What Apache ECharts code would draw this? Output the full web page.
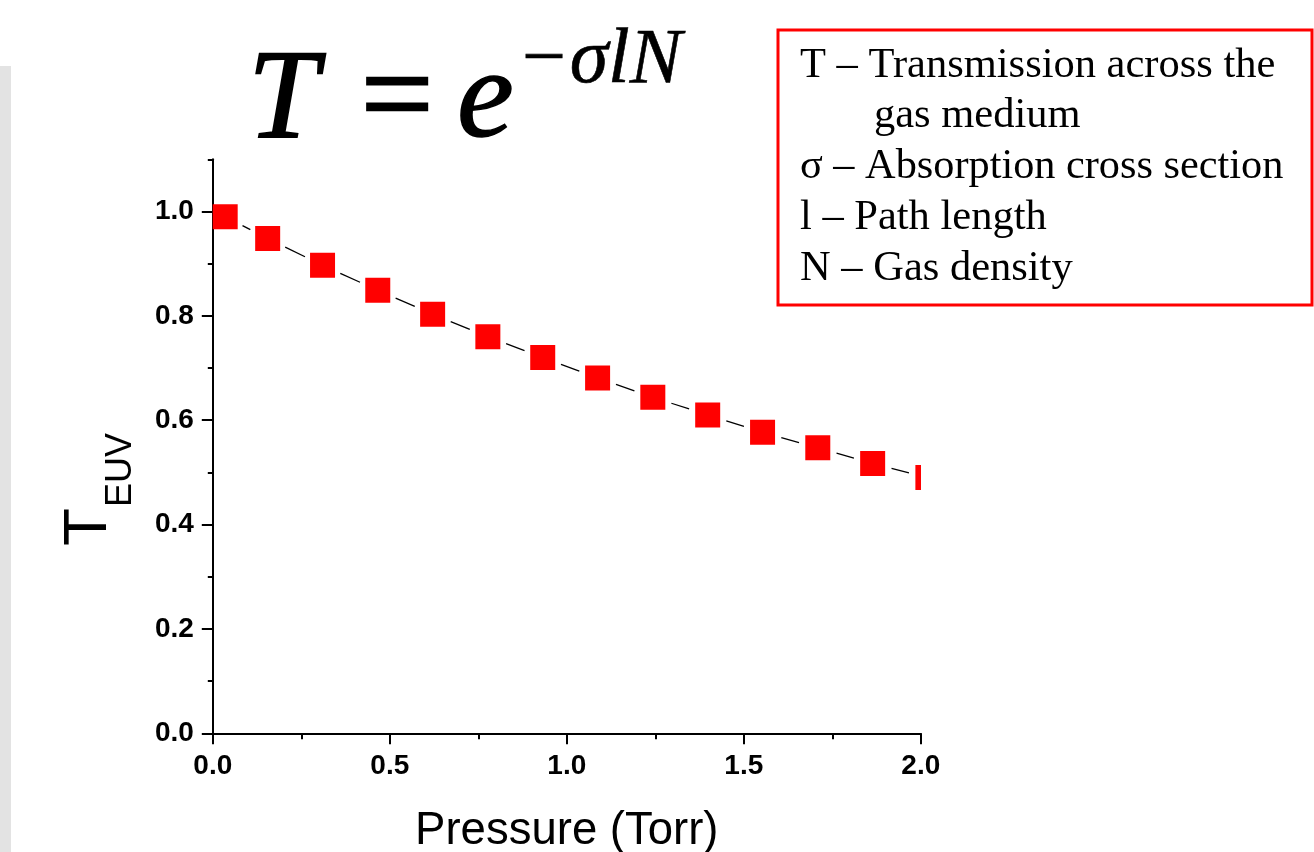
<!DOCTYPE html>
<html>
<head>
<meta charset="utf-8">
<style>
  html, body { margin: 0; padding: 0; background: #ffffff; }
  #chart { width: 1314px; height: 852px; }
</style>
<script src="https://cdn.jsdelivr.net/npm/echarts@6/dist/echarts.min.js"></script>
</head>
<body>
<div id="chart"></div>
<script>
// ---- data ----
const pressure = [0.035, 0.155, 0.310, 0.466, 0.621, 0.777, 0.932, 1.087, 1.243, 1.398, 1.553, 1.709, 1.864, 2.020];
const transmission = [0.990, 0.948, 0.897, 0.849, 0.803, 0.760, 0.720, 0.681, 0.644, 0.610, 0.577, 0.547, 0.517, 0.490];
const yMajorTicks = [0, 0.2, 0.4, 0.6, 0.8, 1.0];
const xTitle = 'Pressure (Torr)';
const legendLines = [
  'T \u2013 Transmission across the',
  'gas medium',
  '\u03c3 \u2013 Absorption cross section',
  'l \u2013 Path length',
  'N \u2013 Gas density'
];

const points = pressure.map((p, i) => [p, transmission[i]]);
const segments = [];
for (let i = 1; i < points.length; i++) {
  segments.push([points[i - 1][0], points[i - 1][1], points[i][0], points[i][1]]);
}

const chart = echarts.init(document.getElementById('chart'), null, { renderer: 'canvas' });

const sans = "'Liberation Sans', Arial, sans-serif";
const serif = "'Liberation Serif', 'Times New Roman', serif";
const axisColor = '#000000';

const serifMid = 0.3375; // canvas middle above baseline (em) for Liberation Serif

function serifText(x, baseline, text, size, italic, strokeW) {
  const st = {
    text: text, fill: '#000', font: (italic ? 'italic ' : '') + size + 'px ' + serif,
    align: 'left', verticalAlign: 'middle'
  };
  if (strokeW) { st.stroke = '#000'; st.lineWidth = strokeW; }
  return { type: 'text', x: x, y: baseline - serifMid * size, silent: true, style: st };
}

const option = {
  animation: false,
  backgroundColor: '#ffffff',
  grid: { left: 212.8, right: 393.2, top: 159.3, bottom: 118.7, containLabel: false, outerBoundsMode: 'none' },
  xAxis: {
    type: 'value', min: 0, max: 2, interval: 0.5,
    name: xTitle, nameLocation: 'middle', nameGap: 75,
    nameTextStyle: { fontFamily: sans, fontSize: 45.5, color: '#000', verticalAlign: 'top' },
    axisLine: { show: true, onZero: false, lineStyle: { color: axisColor, width: 2 } },
    axisTick: { show: true, inside: false, length: 11, lineStyle: { color: axisColor, width: 2 } },
    minorTick: { show: true, splitNumber: 2, length: 6, lineStyle: { color: axisColor, width: 2 } },
    axisLabel: {
      show: true, margin: 19, fontFamily: sans, fontSize: 28, fontWeight: 'bold', color: '#000',
      formatter: v => v.toFixed(1)
    },
    splitLine: { show: false }, minorSplitLine: { show: false }
  },
  yAxis: [
    {
      type: 'value', min: 0, max: 1.1, interval: 0.1, position: 'left',
      axisLine: { show: true, onZero: false, lineStyle: { color: axisColor, width: 2 } },
      axisTick: { show: true, inside: false, length: 5, lineStyle: { color: axisColor, width: 2 } },
      axisLabel: { show: false },
      splitLine: { show: false }
    },
    {
      type: 'value', min: 0, max: 1.1, interval: 0.1, position: 'left',
      axisLine: { show: false },
      axisTick: { show: true, inside: false, length: 11, customValues: yMajorTicks, lineStyle: { color: axisColor, width: 2 } },
      axisLabel: {
        show: true, margin: 19, customValues: yMajorTicks,
        fontFamily: sans, fontSize: 28, fontWeight: 'bold', color: '#000',
        formatter: v => v.toFixed(1)
      },
      splitLine: { show: false }
    }
  ],
  series: [
    {
      name: 'fit', type: 'custom', clip: true, silent: true,
      xAxisIndex: 0, yAxisIndex: 0,
      encode: { x: [0, 2], y: [1, 3] },
      data: segments,
      renderItem: function (params, api) {
        const a = api.coord([api.value(0), api.value(1)]);
        const b = api.coord([api.value(2), api.value(3)]);
        const dx = b[0] - a[0], dy = b[1] - a[1];
        const len = Math.sqrt(dx * dx + dy * dy);
        const cut = 19.5;
        if (len <= 2 * cut) return null;
        const ux = dx / len, uy = dy / len;
        return {
          type: 'line',
          shape: { x1: a[0] + ux * cut, y1: a[1] + uy * cut, x2: b[0] - ux * cut, y2: b[1] - uy * cut },
          style: { stroke: '#000', lineWidth: 1.3 }
        };
      }
    },
    {
      name: 'T_EUV', type: 'custom', clip: true, silent: true,
      xAxisIndex: 0, yAxisIndex: 0,
      encode: { x: 0, y: 1 },
      data: points,
      renderItem: function (params, api) {
        const c = api.coord([api.value(0), api.value(1)]);
        const s = 25;
        return {
          type: 'rect',
          shape: { x: c[0] - s / 2, y: c[1] - s / 2, width: s, height: s },
          style: { fill: '#ff0000' }
        };
      }
    }
  ],
  graphic: [
    // grey strip at left edge
    { type: 'rect', left: 0, top: 66, shape: { width: 11, height: 786 }, style: { fill: '#e3e3e3' }, silent: true },
    // formula T = e^{-σlN}
    serifText(248, 146, 'T', 126, true, 1.8),
    serifText(361, 146, '=', 128, false, 2.5),
    serifText(457, 146, 'e', 128, true, 1.5),
    serifText(517, 88, '\u2212\u03c3lN', 78, true, 0.6),
    // legend box
    { type: 'rect', shape: { x: 778, y: 30, width: 534, height: 275 }, style: { fill: 'none', stroke: '#ff0000', lineWidth: 3 }, silent: true },
    serifText(800, 80, legendLines[0], 42.5, false),
    serifText(874, 130.5, legendLines[1], 42.5, false),
    serifText(800, 181, legendLines[2], 42.3, false),
    serifText(800, 232, legendLines[3], 42.5, false),
    serifText(800, 283.5, legendLines[4], 42.5, false),
    // y-axis title: T with subscript EUV (rotated)
    { type: 'text', x: 88.5, y: 546, rotation: Math.PI / 2, silent: true,
      style: { text: 'T', fill: '#000', font: '62px ' + sans, align: 'left', verticalAlign: 'middle' } },
    { type: 'text', x: 121, y: 507, rotation: Math.PI / 2, silent: true,
      style: { text: 'EUV', fill: '#000', font: '36px ' + sans, align: 'left', verticalAlign: 'middle' } }
  ]
};

chart.setOption(option);
</script>
</body>
</html>
